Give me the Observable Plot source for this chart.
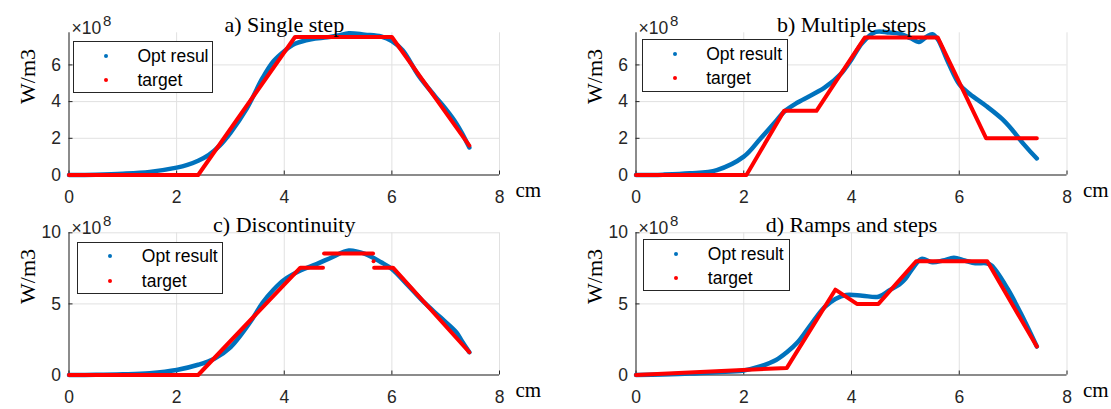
<!DOCTYPE html>
<html>
<head>
<meta charset="utf-8">
<script src="https://cdn.jsdelivr.net/npm/d3@7"></script>
<script src="https://cdn.jsdelivr.net/npm/@observablehq/plot@0.6"></script>
<style>
  html, body { margin: 0; padding: 0; background: #fff; }
  #fig { position: relative; width: 1111px; height: 409px; overflow: hidden; background: #fff; }
  .panel { position: absolute; }
  .panel svg { overflow: visible; }
  .legend { position: absolute; box-sizing: border-box; border: 1px solid #262626; background: #fff;
            font-family: "Liberation Sans", Arial, sans-serif; font-size: 17.5px; color: #000; }
  .legend .dot { position: absolute; width: 4px; height: 4px; border-radius: 50%; margin: -2px 0 0 -2px; }
  .legend .lbl { position: absolute; line-height: 20px; margin-top: -10px; white-space: nowrap; }
</style>
</head>
<body>
<div id="fig"></div>
<script>
// ---------------- data (x in cm, y in units of 1e8 W/m3) ----------------
const titles = ["a) Single step", "b) Multiple steps", "c) Discontinuity", "d) Ramps and steps"];
const legendOpt = ["Opt resul", "Opt result", "Opt result", "Opt result"];
const legendTarget = "target";
const xTicks = [0, 2, 4, 6, 8];
const yTicksTop = [0, 2, 4, 6];
const yTicksBottom = [0, 5, 10];
const yMaxTop = 7.75;
const yMaxBottom = 10;
const xUnit = "cm";
const yLabel = "W/m3";
const expBase = "×10";
const expPow = "8";

// a) Single step
const optA_x = [0, 0.5, 1.0, 1.5, 2.0, 2.2, 2.4, 2.6, 2.8, 3.0, 3.3, 3.6, 3.8, 4.0, 4.2, 4.5, 4.8, 5.0, 5.2, 5.5, 5.8, 6.0, 6.2, 6.5, 6.8, 7.0, 7.2, 7.3, 7.44];
const optA_y = [0, 0.02, 0.07, 0.17, 0.4, 0.55, 0.78, 1.1, 1.6, 2.3, 3.6, 5.3, 6.2, 6.75, 7.15, 7.4, 7.5, 7.6, 7.73, 7.65, 7.55, 7.3, 6.8, 5.4, 4.3, 3.6, 2.8, 2.3, 1.5];
const tgtA_x = [0, 2.4, 4.2, 6.0, 7.44];
const tgtA_y = [0, 0, 7.52, 7.52, 1.6];
const tgtA_seg = [0, 0, 0, 0, 0];

// b) Multiple steps
const optB_x = [0, 0.5, 1.0, 1.5, 2.0, 2.3, 2.6, 2.75, 3.0, 3.5, 3.8, 4.0, 4.2, 4.45, 4.7, 4.9, 5.1, 5.25, 5.4, 5.5, 5.6, 5.8, 6.0, 6.2, 6.5, 6.8, 7.0, 7.2, 7.44];
const optB_y = [0, 0.02, 0.09, 0.27, 1.0, 1.95, 2.95, 3.45, 3.95, 4.76, 5.5, 6.3, 7.2, 7.8, 7.76, 7.7, 7.45, 7.25, 7.55, 7.67, 7.4, 6.1, 4.95, 4.4, 3.76, 3.04, 2.4, 1.67, 0.9];
const tgtB_x = [0, 2.05, 2.75, 3.35, 4.25, 5.6, 6.5, 7.44];
const tgtB_y = [0, 0, 3.5, 3.5, 7.5, 7.5, 2.0, 2.0];
const tgtB_seg = [0, 0, 0, 0, 0, 0, 0, 0];

// c) Discontinuity
const optC_x = [0, 0.5, 1.0, 1.5, 2.0, 2.4, 2.7, 3.0, 3.4, 3.6, 3.8, 4.0, 4.3, 4.6, 4.9, 5.2, 5.5, 5.8, 6.0, 6.3, 6.6, 6.9, 7.2, 7.3, 7.44];
const optC_y = [0, 0.01, 0.05, 0.13, 0.35, 0.72, 1.15, 1.95, 3.9, 5.1, 6.0, 6.7, 7.35, 7.8, 8.3, 8.76, 8.52, 7.93, 7.46, 6.3, 5.1, 4.06, 3.0, 2.4, 1.6];
const tgtC_x = [0, 2.4, 4.3, 4.72, 4.74, 5.65, 5.67, 6.02, 7.44];
const tgtC_y = [0, 0, 7.55, 7.55, 8.55, 8.55, 7.55, 7.55, 1.6];
const tgtC_seg = [0, 0, 0, 0, 1, 1, 2, 2, 2];
const tgtC_extraX = [5.66];
const tgtC_extraY = [8.0];

// d) Ramps and steps
const optD_x = [0, 0.5, 1.0, 1.5, 2.0, 2.3, 2.6, 2.8, 3.0, 3.3, 3.5, 3.7, 3.9, 4.2, 4.5, 4.7, 4.9, 5.0, 5.15, 5.3, 5.5, 5.7, 5.9, 6.1, 6.3, 6.5, 6.6, 6.9, 7.2, 7.44];
const optD_y = [0, 0.04, 0.1, 0.2, 0.32, 0.6, 1.06, 1.6, 2.3, 3.83, 4.77, 5.35, 5.63, 5.58, 5.5, 5.94, 6.4, 6.76, 7.58, 8.17, 7.93, 8.05, 8.24, 8.05, 7.86, 7.86, 7.7, 6.05, 3.9, 2.0];
const tgtD_x = [0, 2.8, 3.7, 4.1, 4.5, 5.2, 6.52, 7.44];
const tgtD_y = [0, 0.5, 6.0, 5.0, 5.0, 8.0, 8.0, 2.0];
const tgtD_seg = [0, 0, 0, 0, 0, 0, 0, 0];

// ---------------- layout ----------------
const BLUE = "#0072BD", RED = "#FF0000", AXIS = "#262626", GRID = "#e1e1e1";
const SANS = "'Liberation Sans', Arial, sans-serif";
const SERIF = "'Liberation Serif', 'DejaVu Serif', serif";

const panels = [
  { title: titles[0], optX: optA_x, optY: optA_y, tX: tgtA_x, tY: tgtA_y, tS: tgtA_seg, yMax: yMaxTop, yTicks: yTicksTop, leg: legendOpt[0],
    box: {left: 0, top: 0, w: 555, h: 200}, m: {l: 68.5, r: 56, t: 32.3, b: 25.5},
    lg: {left: 73, top: 41.3, w: 140, h: 52} },
  { title: titles[1], optX: optB_x, optY: optB_y, tX: tgtB_x, tY: tgtB_y, tS: tgtB_seg, yMax: yMaxTop, yTicks: yTicksTop, leg: legendOpt[1],
    box: {left: 555, top: 0, w: 556, h: 200}, m: {l: 80.5, r: 44.5, t: 32.3, b: 25.5},
    lg: {left: 641.7, top: 39.3, w: 146.6, h: 53} },
  { title: titles[2], optX: optC_x, optY: optC_y, tX: tgtC_x, tY: tgtC_y, tS: tgtC_seg, yMax: yMaxBottom, yTicks: yTicksBottom, leg: legendOpt[2],
    extraX: tgtC_extraX, extraY: tgtC_extraY,
    box: {left: 0, top: 200, w: 555, h: 209}, m: {l: 68.5, r: 56, t: 32.3, b: 34.5},
    lg: {left: 77.3, top: 241.7, w: 145.4, h: 52.3} },
  { title: titles[3], optX: optD_x, optY: optD_y, tX: tgtD_x, tY: tgtD_y, tS: tgtD_seg, yMax: yMaxBottom, yTicks: yTicksBottom, leg: legendOpt[3],
    box: {left: 555, top: 200, w: 556, h: 209}, m: {l: 80.5, r: 44.5, t: 32.3, b: 34.5},
    lg: {left: 643.3, top: 239, w: 146.7, h: 51.7} }
];

const fig = document.getElementById("fig");

for (const p of panels) {
  const opt = p.optX.map((x, i) => ({x, y: p.optY[i]}));
  const tgt = p.tX.map((x, i) => ({x, y: p.tY[i], seg: p.tS[i]}));
  const extra = p.extraX ? p.extraX.map((x, i) => ({x, y: p.extraY[i]})) : [];
  const plotW = p.box.w - p.m.l - p.m.r;
  const plotH = p.box.h - p.m.t - p.m.b;

  const chart = Plot.plot({
    width: p.box.w, height: p.box.h,
    marginLeft: p.m.l, marginRight: p.m.r, marginTop: p.m.t, marginBottom: p.m.b,
    x: {domain: [0, 8], ticks: xTicks},
    y: {domain: [0, p.yMax], ticks: p.yTicks},
    style: {background: "transparent", fontFamily: SANS, color: AXIS, overflow: "visible"},
    marks: [
      Plot.gridX({ticks: xTicks, stroke: GRID, strokeOpacity: 1}),
      Plot.gridY({ticks: p.yTicks, stroke: GRID, strokeOpacity: 1}),
      Plot.ruleX(xTicks, {stroke: AXIS, insetTop: plotH - 4}),
      Plot.ruleY(p.yTicks, {stroke: AXIS, insetRight: plotW - 4}),
      Plot.ruleX([0], {stroke: AXIS}),
      Plot.ruleY([0], {stroke: AXIS}),
      Plot.axisX({ticks: xTicks, tickSize: 0, tickPadding: 16, fontSize: 17.5, label: null, fill: AXIS}),
      Plot.axisY({ticks: p.yTicks, tickSize: 0, tickPadding: 8, fontSize: 17.5, label: null, fill: AXIS}),
      Plot.line(opt, {x: "x", y: "y", stroke: BLUE, strokeWidth: 4.5, curve: "catmull-rom", strokeLinecap: "round"}),
      Plot.line(tgt, {x: "x", y: "y", z: "seg", stroke: RED, strokeWidth: 4, strokeLinecap: "round", strokeLinejoin: "round"}),
      Plot.dot(extra, {x: "x", y: "y", r: 2, fill: RED}),
      Plot.text([p.title], {frameAnchor: "top", dy: -16.5, fontFamily: SERIF, fontSize: 22, fill: "#000"}),
      Plot.text([yLabel], {frameAnchor: "left", dx: -41, rotate: -90, fontFamily: SERIF, fontSize: 22, fill: "#000"}),
      Plot.text([xUnit], {frameAnchor: "bottom-right", dx: 16, dy: 22, textAnchor: "start", fontFamily: SERIF, fontSize: 21, fill: "#000"}),
      Plot.text([expBase], {frameAnchor: "top-left", dx: 2.5, dy: -11, textAnchor: "start", fontFamily: SANS, fontSize: 17.5, fill: AXIS}),
      Plot.text([expPow], {frameAnchor: "top-left", dx: 34, dy: -17.5, textAnchor: "start", fontFamily: SANS, fontSize: 15, fill: AXIS})
    ]
  });
  const wrap = document.createElement("div");
  wrap.className = "panel";
  wrap.style.left = p.box.left + "px";
  wrap.style.top = p.box.top + "px";
  wrap.appendChild(chart);
  fig.appendChild(wrap);

  // legend box
  const lg = document.createElement("div");
  lg.className = "legend";
  lg.style.left = p.lg.left + "px";
  lg.style.top = p.lg.top + "px";
  lg.style.width = p.lg.w + "px";
  lg.style.height = p.lg.h + "px";
  const rows = [[p.leg, BLUE, 13.5], [legendTarget, RED, 38]];
  for (const [txt, col, yy] of rows) {
    const d = document.createElement("div");
    d.className = "dot"; d.style.background = col; d.style.left = "32px"; d.style.top = yy + "px";
    lg.appendChild(d);
    const t = document.createElement("div");
    t.className = "lbl"; t.textContent = txt; t.style.left = "63.5px"; t.style.top = yy + "px";
    lg.appendChild(t);
  }
  fig.appendChild(lg);
}
</script>
</body>
</html>
